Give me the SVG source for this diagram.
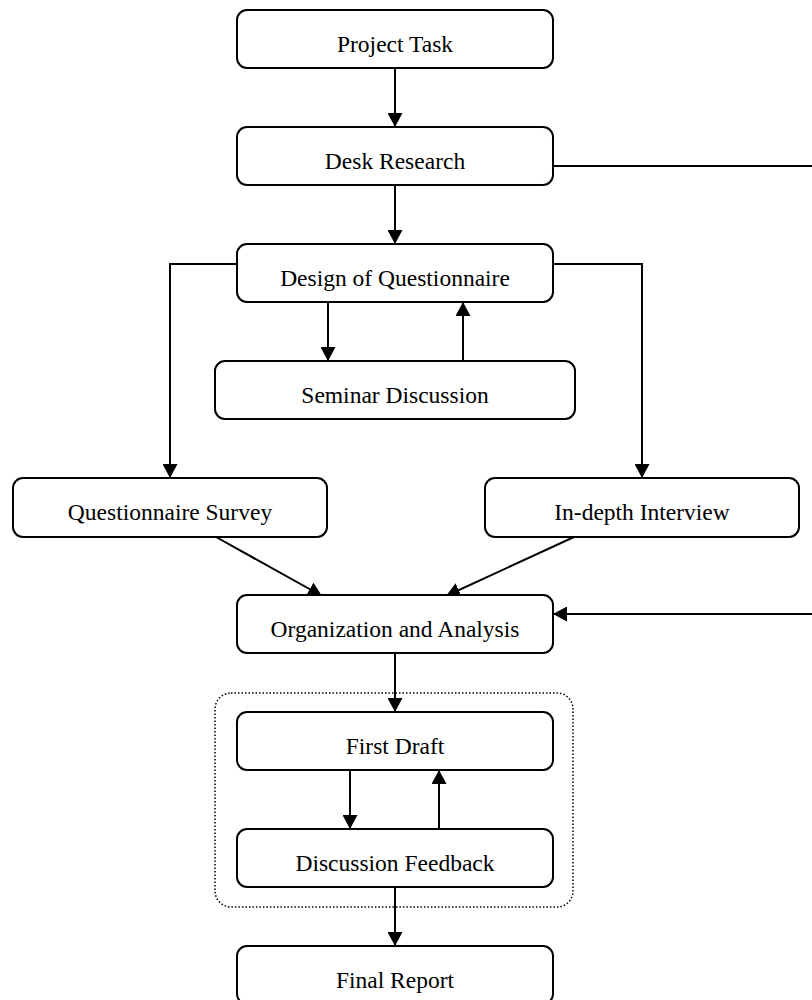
<svg xmlns="http://www.w3.org/2000/svg" width="812" height="1000" viewBox="0 0 812 1000">
  <style>
    .box { fill: #ffffff; stroke: #000000; stroke-width: 2; }
    .label { font-family: "Liberation Serif", "Times New Roman", serif; font-size: 23.5px; fill: #000000; text-anchor: middle; }
    .link { fill: none; stroke: #000000; stroke-width: 2; }
    .arrow { marker-end: url(#head); }
    .group { fill: none; stroke: #000000; stroke-width: 1.5; stroke-dasharray: 1.5 2; }
  </style>
  <defs>
    <marker id="head" viewBox="0 0 14 15" refX="14" refY="7.5" markerWidth="14" markerHeight="15" markerUnits="userSpaceOnUse" orient="auto">
      <path d="M0,0 L14,7.5 L0,15 Z" fill="#000000"/>
    </marker>
  </defs>
  <rect width="812" height="1000" fill="#ffffff"/>

  <!-- dotted grouping around draft / feedback loop -->
  <rect id="draft-loop" class="group" x="215" y="693" width="358" height="214" rx="16"/>

  <g id="connectors">
    <line class="link arrow" x1="395" y1="68" x2="395" y2="127"/>
    <line class="link arrow" x1="395" y1="185" x2="395" y2="244"/>
    <line class="link" x1="553" y1="166" x2="812" y2="166"/>
    <polyline class="link arrow" points="237,264 170,264 170,478"/>
    <polyline class="link arrow" points="553,264 642,264 642,478"/>
    <line class="link arrow" x1="328" y1="302" x2="328" y2="361"/>
    <line class="link arrow" x1="463" y1="361" x2="463" y2="302"/>
    <line class="link arrow" x1="216" y1="537" x2="322" y2="596"/>
    <line class="link arrow" x1="574" y1="537" x2="446" y2="596"/>
    <line class="link arrow" x1="812" y1="614" x2="553" y2="614"/>
    <line class="link arrow" x1="395" y1="653" x2="395" y2="712"/>
    <line class="link arrow" x1="350" y1="770" x2="350" y2="829"/>
    <line class="link arrow" x1="439" y1="829" x2="439" y2="770"/>
    <line class="link arrow" x1="395" y1="887" x2="395" y2="946"/>
  </g>

  <g id="project-task">
    <rect class="box" x="237" y="10" width="316" height="58" rx="10"/>
    <text class="label" x="395" y="52">Project Task</text>
  </g>
  <g id="desk-research">
    <rect class="box" x="237" y="127" width="316" height="58" rx="10"/>
    <text class="label" x="395" y="169">Desk Research</text>
  </g>
  <g id="design-questionnaire">
    <rect class="box" x="237" y="244" width="316" height="58" rx="10"/>
    <text class="label" x="395" y="286">Design of Questionnaire</text>
  </g>
  <g id="seminar-discussion">
    <rect class="box" x="215" y="361" width="360" height="58" rx="10"/>
    <text class="label" x="395" y="403">Seminar Discussion</text>
  </g>
  <g id="questionnaire-survey">
    <rect class="box" x="13" y="478" width="314" height="59" rx="10"/>
    <text class="label" x="170" y="520">Questionnaire Survey</text>
  </g>
  <g id="in-depth-interview">
    <rect class="box" x="485" y="478" width="314" height="59" rx="10"/>
    <text class="label" x="642" y="520">In-depth Interview</text>
  </g>
  <g id="organization-analysis">
    <rect class="box" x="237" y="595" width="316" height="58" rx="10"/>
    <text class="label" x="395" y="637">Organization and Analysis</text>
  </g>
  <g id="first-draft">
    <rect class="box" x="237" y="712" width="316" height="58" rx="10"/>
    <text class="label" x="395" y="754">First Draft</text>
  </g>
  <g id="discussion-feedback">
    <rect class="box" x="237" y="829" width="316" height="58" rx="10"/>
    <text class="label" x="395" y="871">Discussion Feedback</text>
  </g>
  <g id="final-report">
    <rect class="box" x="237" y="946" width="316" height="58" rx="10"/>
    <text class="label" x="395" y="988">Final Report</text>
  </g>
</svg>
